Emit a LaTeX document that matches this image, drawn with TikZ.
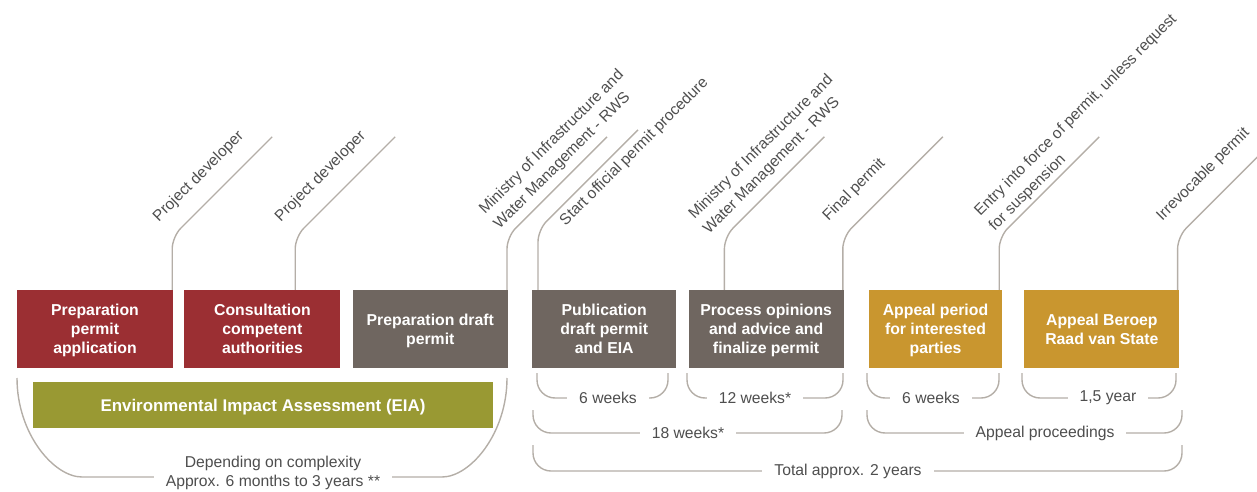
\documentclass[tikz,border=0pt]{standalone}
\usepackage{fontspec}
\setmainfont{Liberation Sans}
\usetikzlibrary{positioning}
\definecolor{wine}{HTML}{9B2F33}
\definecolor{taupe}{HTML}{6F6660}
\definecolor{ochre}{HTML}{C9962F}
\definecolor{eiagreen}{HTML}{999933}
\definecolor{leadgray}{HTML}{B4AEA7}
\definecolor{textgray}{HTML}{4E4E4E}
\tikzset{
  stage/.style={minimum height=78pt, inner sep=0pt, align=center, text=white, text depth=-3pt,
    font=\fontsize{15.8}{19.2}\selectfont\bfseries},
  leader/.style={draw=leadgray, line width=1.4pt, rounded corners=12pt},
  who/.style={rotate=45, anchor=south west, inner sep=0pt, align=left, text=textgray,
    font=\fontsize{15.5}{20.5}\selectfont},
  span/.style={draw=leadgray, line width=1.4pt, rounded corners=18pt},
  dur/.style={fill=white, inner xsep=12pt, inner ysep=1pt, align=center, text=textgray,
    font=\fontsize{15.7}{19.5}\selectfont},
}
\begin{document}
\begin{tikzpicture}[x=1pt, y=-1pt]
  \useasboundingbox (0,0) rectangle (1257,492);

  \node[stage, fill=wine, minimum width=156pt] (b1) at (95,329) {Preparation\\permit\\application};
  \node[stage, fill=wine, minimum width=156pt, right=11pt of b1] (b2) {Consultation\\competent\\authorities};
  \node[stage, fill=taupe, minimum width=155pt, right=12pt of b2] (b3) {Preparation draft\\permit};
  \node[stage, fill=taupe, minimum width=144pt, right=24pt of b3] (b4) {Publication\\draft permit\\and EIA};
  \node[stage, fill=taupe, minimum width=155pt, right=12pt of b4] (b5) {Process opinions\\and advice and\\finalize permit};
  \node[stage, fill=ochre, minimum width=133pt, right=25pt of b5] (b6) {Appeal period\\for interested\\parties};
  \node[stage, fill=ochre, minimum width=155pt, right=22pt of b6] (b7) {Appeal Beroep\\Raad van State};

  \node[stage, fill=eiagreen, minimum width=460pt, minimum height=46pt, text depth=0pt,
    font=\fontsize{16.9}{20}\selectfont\bfseries] (eia) at (263,405) {Environmental Impact Assessment (EIA)};

  \draw[leader] ([xshift=-1pt]b1.north east) -- ++(0,-53) -- ++(100,-100);
  \draw[leader] ([xshift=111pt]b2.north west) -- ++(0,-53) -- ++(100,-100);
  \draw[leader] ([xshift=-1pt]b3.north east) -- ++(0,-53) -- ++(100,-100);
  \draw[leader] ([xshift=6pt]b4.north west) -- ++(0,-60) -- ++(100,-100);
  \draw[leader] ([xshift=36pt]b5.north west) -- ++(0,-53) -- ++(100,-100);
  \draw[leader] ([xshift=-1pt]b5.north east) -- ++(0,-53) -- ++(100,-100);
  \draw[leader] ([xshift=-3pt]b6.north east) -- ++(0,-53) -- ++(100,-100);
  \draw[leader] ([xshift=-2pt]b7.north east) -- ++(0,-53) -- ++(82,-82);

  \node[who] (t1) at ([shift={(-12,-65)}]b1.north east) {Project developer};
  \node[who] (t2) at ([shift={(99,-65)}]b2.north west) {Project developer};
  \node[who] (t3) at ([shift={(-6,-58)}]b3.north east) {Ministry of Infrastructure and\\Water Management - RWS};
  \node[who] (t4) at ([shift={(36,-61)}]b4.north west) {Start official permit procedure};
  \node[who] (t5) at ([shift={(23,-53)}]b5.north west) {Ministry of Infrastructure and\\Water Management - RWS};
  \node[who] (t6) at ([shift={(-13,-66)}]b5.north east) {Final permit};
  \node[who] (t7) at ([shift={(-5,-56)}]b6.north east) {Entry into force of permit, unless request\\for suspension};
  \node[who] (t8) at ([shift={(-15,-66)}]b7.north east) {Irrevocable permit};

  \draw[span] (537,373) -- (537,398) -- (668,398) -- (668,373);
  \draw[span] (687,373) -- (687,398) -- (843,398) -- (843,373);
  \draw[span] (867,373) -- (867,398) -- (999,398) -- (999,373);
  \draw[span] (1022,373) -- (1022,398) -- (1176,398) -- (1176,373);
  \draw[span] (533,410) -- (533,433) -- (842,433) -- (842,410);
  \draw[span] (867,410) -- (867,433) -- (1182,433) -- (1182,410);
  \draw[span] (533,445) -- (533,471) -- (1182,471) -- (1182,445);
  \draw[span] (17,378) .. controls (17,434) and (54,477) .. (100,477) -- (424,477)
    .. controls (470,477) and (507,434) .. (507,378);

  \node[dur] (d1) at (608,398) {6 weeks};
  \node[dur] (d2) at (755,398) {12 weeks*};
  \node[dur] (d3) at (931,398) {6 weeks};
  \node[dur] (d4) at (1108,398) {1,5 year};
  \node[dur] (d5) at (688,433) {18 weeks*};
  \node[dur] (d6) at (1045,433) {Appeal proceedings};
  \node[dur] (d7) at (848,471) {Total approx. 2 years};
  \node[dur] (d8) at (273,473) {Depending on complexity\\Approx. 6 months to 3 years **};
\end{tikzpicture}
\end{document}
